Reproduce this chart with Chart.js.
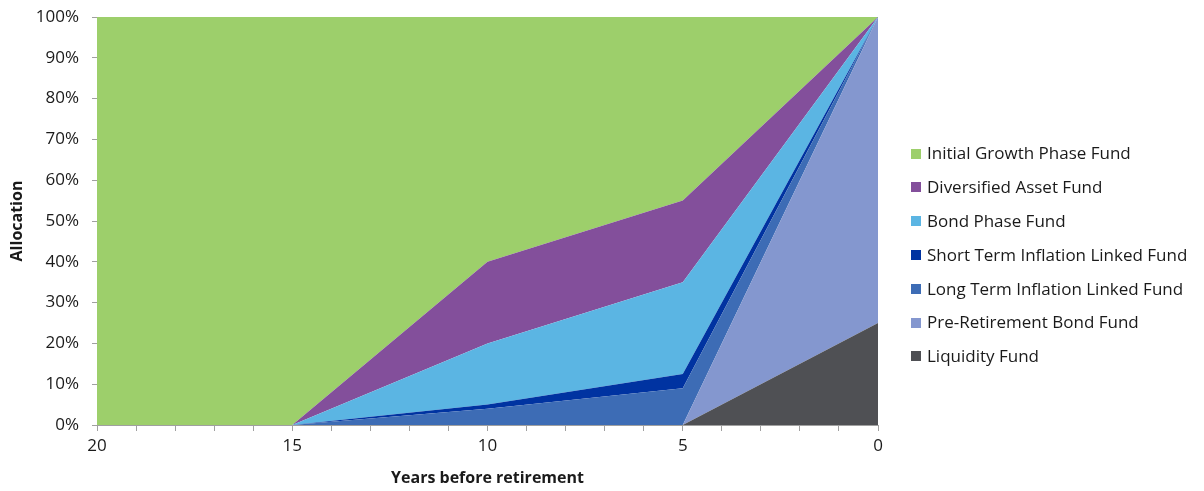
<!DOCTYPE html>
<html>
<head>
<meta charset="utf-8">
<script src="https://cdn.jsdelivr.net/npm/chart.js@4/dist/chart.umd.min.js"></script>
<style>
  html, body { margin: 0; padding: 0; background: #ffffff; }
  #wrap { width: 1204px; height: 491px; }
</style>
</head>
<body>
<div id="wrap"><canvas id="chart" width="1204" height="491"></canvas></div>
<script>
// Years before retirement at which the allocation is defined
const years = [20, 15, 10, 5, 0];

// Percentage allocated to each fund at those points
const liquidity          = [0, 0, 0, 0, 25];
const preRetirement      = [0, 0, 0, 0, 75];
const longTermInflation  = [0, 0, 4, 9, 0];
const shortTermInflation = [0, 0, 1, 3.5, 0];
const bondPhase          = [0, 0, 15, 22.5, 0];
const diversified        = [0, 0, 20, 20, 0];
const initialGrowth      = [100, 100, 60, 45, 0];

const yTicks = [0, 10, 20, 30, 40, 50, 60, 70, 80, 90, 100];
const xLabelEvery = 5;

const FONT = '"Open Sans", Lato, sans-serif';
const AXIS_GREY = '#a0a0a0';
const TEXT = '#1a1a1a';

// bottom of the stack first
const series = [
  { label: 'Liquidity Fund', values: liquidity, color: '#4f5054' },
  { label: 'Pre-Retirement Bond Fund', values: preRetirement, color: '#8497cf' },
  { label: 'Long Term Inflation Linked Fund', values: longTermInflation, color: '#3d6cb5' },
  { label: 'Short Term Inflation Linked Fund', values: shortTermInflation, color: '#0033a1' },
  { label: 'Bond Phase Fund', values: bondPhase, color: '#5bb5e3' },
  { label: 'Diversified Asset Fund', values: diversified, color: '#834f9b' },
  { label: 'Initial Growth Phase Fund', values: initialGrowth, color: '#9dcf6b' }
];

const datasets = series.map((s, i) => ({
  label: s.label,
  data: years.map((yr, k) => ({ x: yr, y: s.values[k] })),
  backgroundColor: s.color,
  borderColor: s.color,
  borderWidth: 0,
  pointRadius: 0,
  pointHoverRadius: 0,
  tension: 0,
  fill: i === 0 ? 'origin' : '-1'
}));

// Legend column on the right, top of the stack listed first
const sideLegend = {
  id: 'sideLegend',
  afterDraw(chart) {
    const ctx = chart.ctx;
    const items = chart.data.datasets.slice().reverse();
    const boxX = 911, box = 10, textX = 927, firstY = 153.5, step = 33.8;
    ctx.save();
    ctx.font = '17px ' + FONT;
    ctx.textBaseline = 'middle';
    ctx.textAlign = 'left';
    items.forEach((ds, i) => {
      const cy = firstY + i * step;
      ctx.fillStyle = ds.backgroundColor;
      ctx.fillRect(boxX, Math.round(cy - box / 2), box, box);
      ctx.fillStyle = TEXT;
      ctx.fillText(ds.label, textX, cy + 1);
    });
    ctx.restore();
  }
};

new Chart(document.getElementById('chart'), {
  type: 'line',
  data: { datasets },
  plugins: [sideLegend],
  options: {
    responsive: false,
    animation: false,
    events: [],
    layout: { padding: { top: 0, left: 0, right: 326, bottom: 0 } },
    plugins: {
      tooltip: { enabled: false },
      legend: { display: false }
    },
    scales: {
      x: {
        type: 'linear',
        reverse: true,
        min: 0,
        max: 20,
        afterFit: (scale) => { scale.height = 66; },
        border: { display: true, color: AXIS_GREY, width: 1 },
        grid: { drawOnChartArea: false, drawTicks: true, tickLength: 6, tickColor: AXIS_GREY },
        ticks: {
          stepSize: 1,
          autoSkip: false,
          maxRotation: 0,
          padding: 5,
          color: TEXT,
          font: { family: FONT, size: 17 },
          callback: (v) => (v % xLabelEvery === 0 ? String(v) : '')
        },
        title: {
          display: true,
          text: 'Years before retirement',
          color: TEXT,
          padding: { top: 4, bottom: 3 },
          font: { family: FONT, size: 16, weight: 'bold' }
        }
      },
      y: {
        stacked: true,
        min: 0,
        max: 100,
        z: 1,
        afterFit: (scale) => {
          scale.width = 97;
          scale.paddingTop = 17;
          scale.paddingBottom = 0;
        },
        afterBuildTicks: (scale) => { scale.ticks = yTicks.map(v => ({ value: v })); },
        border: { display: true, color: AXIS_GREY, width: 1 },
        grid: {
          drawOnChartArea: true,
          color: (ctx) => (ctx.tick && ctx.tick.value === 100 ? AXIS_GREY : 'rgba(0,0,0,0)'),
          tickColor: AXIS_GREY,
          tickLength: 5
        },
        ticks: {
          padding: 13,
          color: TEXT,
          font: { family: FONT, size: 17 },
          callback: (v) => v + '%'
        },
        title: {
          display: true,
          text: 'Allocation',
          color: TEXT,
          padding: { top: 8, bottom: 0 },
          font: { family: FONT, size: 16, weight: 'bold' }
        }
      }
    }
  }
});
</script>
</body>
</html>
